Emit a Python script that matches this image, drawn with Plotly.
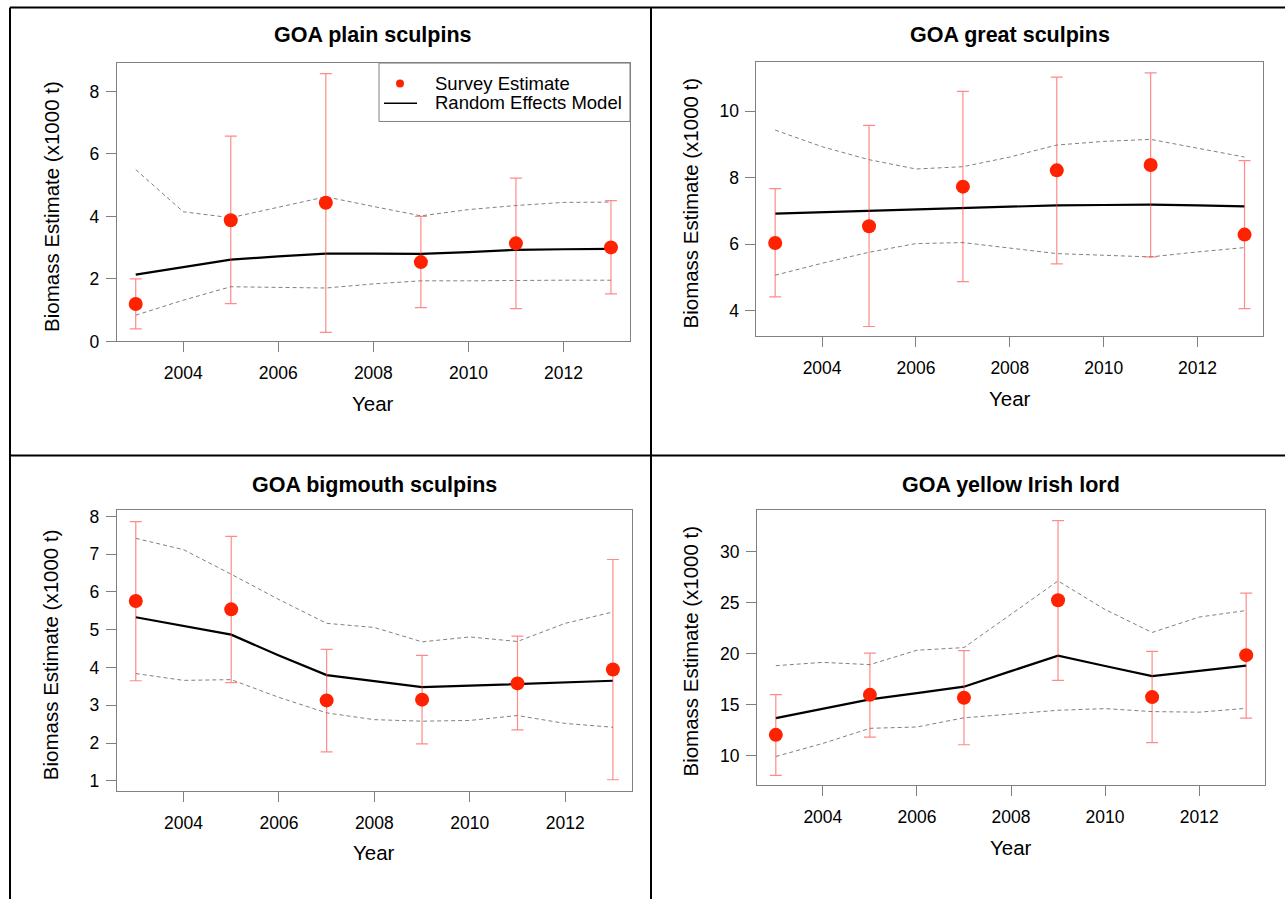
import plotly.graph_objects as go

W, H = 1285, 909

# ---------------- data ----------------
survey_years = [2003, 2005, 2007, 2009, 2011, 2013]
model_years = [2003, 2004, 2005, 2006, 2007, 2008, 2009, 2010, 2011, 2012, 2013]

plain_est = [1.20, 3.88, 4.44, 2.54, 3.14, 3.01]
plain_hi = [2.00, 6.57, 8.57, 4.00, 5.23, 4.51]
plain_lo = [0.40, 1.21, 0.29, 1.08, 1.05, 1.52]
plain_model = [2.14, 2.38, 2.62, 2.72, 2.81, 2.81, 2.80, 2.86, 2.93, 2.95, 2.96]
plain_upper = [5.50, 4.15, 3.96, 4.29, 4.63, 4.32, 4.02, 4.22, 4.35, 4.45, 4.46]
plain_lower = [0.84, 1.32, 1.75, 1.73, 1.71, 1.84, 1.94, 1.94, 1.96, 1.96, 1.96]

great_est = [6.04, 6.54, 7.73, 8.22, 8.38, 6.29]
great_hi = [7.67, 9.57, 10.59, 11.02, 11.15, 8.51]
great_lo = [4.42, 3.53, 4.88, 5.41, 5.62, 4.07]
great_model = [6.92, 6.96, 7.00, 7.05, 7.09, 7.13, 7.17, 7.18, 7.19, 7.17, 7.14]
great_upper = [9.43, 8.93, 8.54, 8.26, 8.33, 8.62, 8.98, 9.09, 9.15, 8.88, 8.62]
great_lower = [5.07, 5.43, 5.76, 6.02, 6.05, 5.89, 5.72, 5.67, 5.62, 5.77, 5.90]

bigmouth_est = [5.76, 5.54, 3.13, 3.15, 3.58, 3.95]
bigmouth_hi = [7.86, 7.47, 4.48, 4.32, 4.83, 6.86]
bigmouth_lo = [3.65, 3.60, 1.77, 1.98, 2.35, 1.03]
bigmouth_model = [5.33, 5.10, 4.87, 4.32, 3.80, 3.64, 3.48, 3.52, 3.56, 3.61, 3.65]
bigmouth_upper = [7.42, 7.12, 6.47, 5.80, 5.17, 5.06, 4.68, 4.81, 4.69, 5.17, 5.47]
bigmouth_lower = [3.84, 3.66, 3.68, 3.21, 2.80, 2.62, 2.58, 2.60, 2.73, 2.52, 2.42]

yil_est = [12.06, 15.98, 15.69, 25.24, 15.76, 19.87]
yil_hi = [16.01, 20.06, 20.32, 33.05, 20.23, 25.95]
yil_lo = [8.10, 11.83, 11.09, 17.40, 11.29, 13.70]
yil_model = [13.70, 14.60, 15.53, 16.14, 16.78, 18.30, 19.81, 18.81, 17.81, 18.33, 18.84]
yil_upper = [18.84, 19.16, 18.94, 20.35, 20.61, 23.86, 27.14, 24.34, 22.09, 23.60, 24.24]
yil_lower = [9.94, 11.22, 12.70, 12.83, 13.73, 14.12, 14.47, 14.63, 14.34, 14.28, 14.66]

titles = ["GOA plain sculpins", "GOA great sculpins", "GOA bigmouth sculpins", "GOA yellow Irish lord"]
x_ticks = [2004, 2006, 2008, 2010, 2012]
y_ticks = [[0, 2, 4, 6, 8], [4, 6, 8, 10], [1, 2, 3, 4, 5, 6, 7, 8], [10, 15, 20, 25, 30]]
y_ranges = [[0, 8.91], [3.23, 11.48], [0.74, 8.16], [7.14, 34.08]]
x_range = [2002.6, 2013.4]

# panel boxes in pixels: left, right, top, bottom
boxes = [(116.7, 630.0, 60.0, 342.7),
         (756.4, 1263.3, 58.7, 337.7),
         (116.7, 632.0, 514.3, 799.0),
         (757.0, 1265.0, 514.0, 793.3)]

panels = [
    (plain_est, plain_hi, plain_lo, plain_model, plain_upper, plain_lower),
    (great_est, great_hi, great_lo, great_model, great_upper, great_lower),
    (bigmouth_est, bigmouth_hi, bigmouth_lo, bigmouth_model, bigmouth_upper, bigmouth_lower),
    (yil_est, yil_hi, yil_lo, yil_model, yil_upper, yil_lower),
]

FONT = "Liberation Sans, Arial, Helvetica, sans-serif"
AXC = "#808080"
RED = "#ff2200"
ERR = "rgba(255,60,60,0.6)"

def px_x(x):
    return x / W

def px_y(y):
    return 1 - y / H

fig = go.Figure()
layout = dict(width=W, height=H, margin=dict(l=0, r=0, t=0, b=0),
              paper_bgcolor="white", plot_bgcolor="white", showlegend=False,
              font=dict(family=FONT, color="black"))
annotations = []
shapes = []

for i, (est, hi, lo, model, upper, lower) in enumerate(panels):
    n = "" if i == 0 else str(i + 1)
    xa, ya = "x" + n, "y" + n
    plus = [h - e for h, e in zip(hi, est)]
    minus = [e - l for e, l in zip(est, lo)]
    for band in (upper, lower):
        fig.add_trace(go.Scatter(x=model_years, y=band, mode="lines", xaxis=xa, yaxis=ya,
                                 line=dict(color=AXC, width=1, dash="4px,3px"),
                                 hoverinfo="skip"))
    fig.add_trace(go.Scatter(x=model_years, y=model, mode="lines", xaxis=xa, yaxis=ya,
                             name="Random Effects Model",
                             line=dict(color="black", width=2.2)))
    fig.add_trace(go.Scatter(x=survey_years, y=est, mode="markers", xaxis=xa, yaxis=ya,
                             name="Survey Estimate",
                             marker=dict(color=RED, size=14),
                             error_y=dict(type="data", symmetric=False, array=plus,
                                          arrayminus=minus, color=ERR, thickness=1.2, width=6)))
    l, r, t, b = boxes[i]
    axis_common = dict(showline=True, mirror=True, linecolor=AXC, linewidth=1,
                       ticks="outside", ticklen=10, tickcolor=AXC, tickwidth=1,
                       showgrid=False, zeroline=False,
                       tickfont=dict(size=17.5, family=FONT, color="black"))
    layout["xaxis" + n] = dict(axis_common, domain=[px_x(l), px_x(r)], range=x_range,
                               tickvals=x_ticks, anchor=ya, ticklabelstandoff=6)
    layout["yaxis" + n] = dict(axis_common, domain=[px_y(b), px_y(t)], range=y_ranges[i],
                               tickvals=y_ticks[i], anchor=xa, ticklabelstandoff=3)
    cx = (l + r) / 2
    annotations.append(dict(text="<b>" + titles[i] + "</b>", x=px_x(cx), y=px_y(31 if i < 2 else 489),
                            xref="paper", yref="paper", showarrow=False,
                            xanchor="center", yanchor="middle", font=dict(size=21.5, family=FONT)))
    annotations.append(dict(text="Year", x=px_x(cx), y=px_y(b + 63),
                            xref="paper", yref="paper", showarrow=False,
                            xanchor="center", yanchor="middle", font=dict(size=20.5, family=FONT)))
    annotations.append(dict(text="Biomass Estimate (x1000 t)", x=px_x(l - 66), y=px_y((t + b) / 2 + 4),
                            xref="paper", yref="paper", showarrow=False, textangle=-90,
                            xanchor="center", yanchor="middle", font=dict(size=20.5, family=FONT)))

# legend in first panel
shapes.append(dict(type="rect", xref="paper", yref="paper", x0=px_x(379), x1=px_x(630),
                   y0=px_y(119.3), y1=px_y(60), line=dict(color=AXC, width=1), fillcolor="white"))
shapes.append(dict(type="circle", xref="paper", yref="paper", x0=px_x(396), x1=px_x(404),
                   y0=px_y(84.7), y1=px_y(76.7), line=dict(color=RED, width=0), fillcolor=RED))
shapes.append(dict(type="line", xref="paper", yref="paper", x0=px_x(384), x1=px_x(417),
                   y0=px_y(100.7), y1=px_y(100.7), line=dict(color="black", width=1.5)))
annotations.append(dict(text="Survey Estimate", x=px_x(433), y=px_y(81), xref="paper", yref="paper",
                        showarrow=False, xanchor="left", yanchor="middle", font=dict(size=18.5, family=FONT)))
annotations.append(dict(text="Random Effects Model", x=px_x(433), y=px_y(100.5), xref="paper", yref="paper",
                        showarrow=False, xanchor="left", yanchor="middle", font=dict(size=18.5, family=FONT)))

# table borders
for (x0, y0, x1, y1) in [(10, 3.5, W, 3.5), (10, 3.5, 10, H), (651, 3.5, 651, H), (10, 458.5, W, 458.5)]:
    shapes.append(dict(type="line", xref="paper", yref="paper", x0=px_x(x0), x1=px_x(x1),
                       y0=px_y(y0), y1=px_y(y1), line=dict(color="black", width=2)))

layout["annotations"] = annotations
layout["shapes"] = shapes
fig.update_layout(**layout)

fig.write_html("out.html", config={"displayModeBar": False},
               post_script="document.body.style.margin='0';document.body.style.overflow='hidden';")
